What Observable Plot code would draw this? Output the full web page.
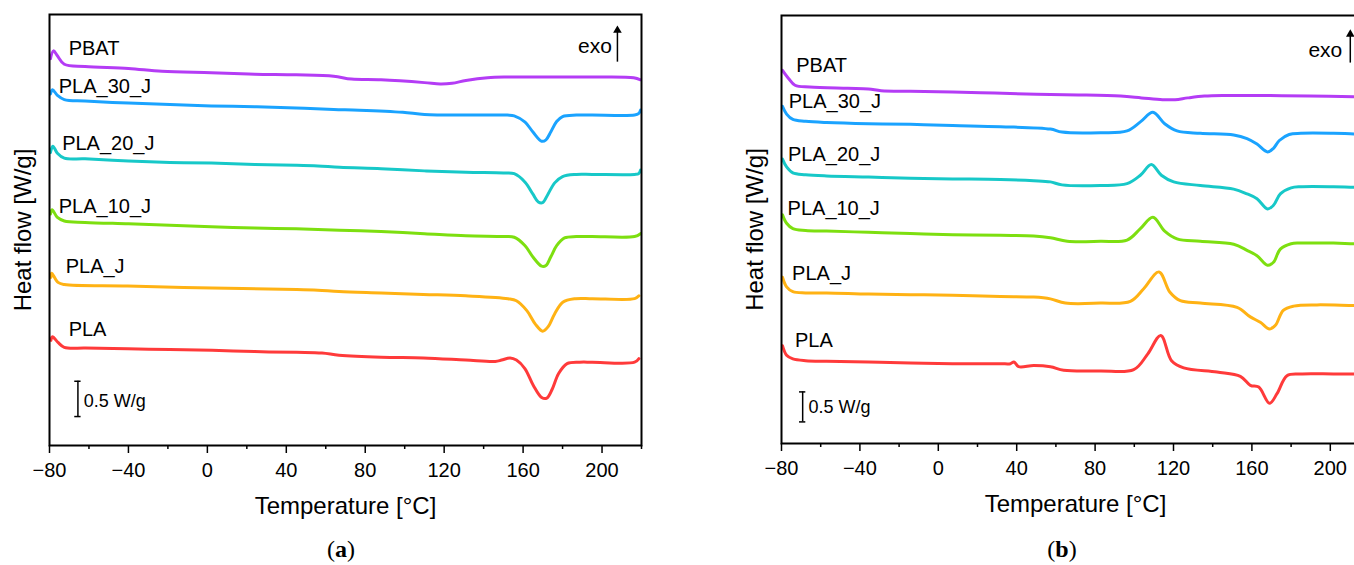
<!DOCTYPE html>
<html><head><meta charset="utf-8">
<script src="https://cdn.jsdelivr.net/npm/d3@7"></script>
<script src="https://cdn.jsdelivr.net/npm/@observablehq/plot@0.6"></script>
<style>
html,body{margin:0;padding:0;background:#fff;width:1354px;height:565px;overflow:hidden;font-family:"Liberation Sans",Arial,sans-serif;position:relative;}
#a,#b{position:absolute;top:0;}
#a{left:0;width:660px}
#b{left:700px;width:700px}
#a svg,#b svg{max-width:none !important;}
.cap{position:absolute;top:536px;font-family:"Liberation Serif","Times New Roman",serif;font-size:24px;transform:translateX(-50%);white-space:nowrap;}
</style></head><body>
<div id="a"></div><div id="b"></div>
<div class="cap" style="left:341px">(<b>a</b>)</div>
<div class="cap" style="left:1062px">(<b>b</b>)</div>
<script>
// ---- series ----
const seriesNames = ["PBAT","PLA_30_J","PLA_20_J","PLA_10_J","PLA_J","PLA"];
const seriesColors = ["#b43cf5","#1aa3ff","#17c8c8","#7ddf10","#ffb214","#ff3a3a"];
const majorTicks = [-80,-40,0,40,80,120,160,200];
const minorTicks = [-60,-20,20,60,100,140,180,220];

// ---- panel (a): temperature [°C] and shifted heat flow [W/g] ----
const tA_PBAT = [-79.5,-78,-76,-72.5,-62,-40,-23,2,24,45,64,73,88,110,118,124,131,142,152,174,195,216,219.5];
const hA_PBAT = [5.48,5.59,5.52,5.40,5.37,5.34,5.30,5.28,5.26,5.25,5.23,5.19,5.18,5.14,5.12,5.13,5.17,5.21,5.22,5.22,5.22,5.21,5.18];
const tA_P30 = [-79.5,-78.5,-76,-72.5,-62,-40,-19,2,24,45,64,77,99,110,131,152,155.5,161,165,169.4,171.6,174,177,180,187,195,216.5,218.5,219.5];
const hA_P30 = [4.98,5.04,4.96,4.90,4.88,4.85,4.83,4.81,4.80,4.78,4.76,4.75,4.72,4.69,4.68,4.68,4.67,4.58,4.44,4.31,4.33,4.44,4.59,4.66,4.68,4.68,4.68,4.70,4.75];
const tA_P20 = [-79.5,-78.3,-76,-72.5,-62,-40,-19,2,24,45,56,67,88,110,131,150,155.5,161,165,167.7,169.9,172.6,176,180,187,195,216.5,218.5,219.5];
const hA_P20 = [4.15,4.24,4.14,4.07,4.06,4.03,4.01,4.00,3.98,3.97,3.96,3.94,3.92,3.89,3.87,3.86,3.85,3.73,3.56,3.45,3.44,3.56,3.72,3.81,3.84,3.84,3.84,3.85,3.90];
const tA_P10 = [-79.5,-78.7,-76,-72.5,-62,-40,-19,2,24,45,67,88,110,131,150,155.5,161,165,169.4,171.6,174,177,181,187,195,216.5,219.5];
const hA_P10 = [3.28,3.34,3.23,3.18,3.16,3.14,3.12,3.10,3.08,3.07,3.05,3.03,3.00,2.97,2.96,2.95,2.83,2.67,2.54,2.55,2.67,2.83,2.94,2.96,2.96,2.96,3.00];
const tA_PJ = [-79.3,-78.9,-75.7,-72.5,-40.4,2.4,45.3,56,66.7,88.1,109.5,130.9,152.3,156.6,161.9,166.2,169.9,172.6,175.9,180.1,186.6,195.1,216.5,218.7];
const hA_PJ = [2.38,2.44,2.31,2.28,2.26,2.23,2.21,2.20,2.18,2.16,2.14,2.12,2.08,2.05,1.91,1.72,1.62,1.68,1.86,2.03,2.08,2.08,2.08,2.12];
const tA_PLA = [-79.3,-78.5,-75.7,-72.5,-61.8,-40.4,-19,2.4,23.9,45.3,58.1,66.7,88.1,109.5,130.9,145.9,149.1,153.4,156.6,160.9,165.2,169.4,172.0,174.8,178.0,182.3,188.7,195.1,216.5,218.7];
const hA_PLA = [1.49,1.54,1.46,1.39,1.38,1.37,1.36,1.35,1.33,1.32,1.31,1.28,1.25,1.24,1.21,1.19,1.21,1.24,1.21,1.09,0.85,0.68,0.67,0.80,1.02,1.16,1.18,1.18,1.18,1.23];
const labelA_t = [-70.3,-75.3,-73.6,-75.3,-71.8,-70.3];
const labelA_h = [5.62,5.08,4.28,3.39,2.54,1.64];

// ---- panel (b) ----
const tB_PBAT = [-79.5,-76.3,-73.1,-65.6,-46.3,-35.6,-29.2,-14.2,7.3,28.7,50.1,71.5,93.0,103.7,114.4,120.8,127.3,135.8,146.5,168.0,189.4,214.7,220];
const hB_PBAT = [6.22,6.08,5.97,5.94,5.92,5.91,5.88,5.87,5.86,5.84,5.82,5.81,5.79,5.76,5.73,5.73,5.76,5.79,5.80,5.80,5.79,5.78,5.78];
const tB_P30 = [-79.5,-77.4,-74.2,-67.7,-57.0,-35.6,-14.2,7.3,31.7,57.2,63.1,82.7,96.3,103.1,109.5,115.5,121.8,133.7,150.7,157.5,162.6,168,171,174,179,185,201.6,212.2,220];
const hB_P30 = [5.62,5.49,5.40,5.37,5.35,5.33,5.32,5.30,5.28,5.24,5.19,5.18,5.21,5.36,5.52,5.33,5.21,5.17,5.14,5.08,4.99,4.86,4.92,5.05,5.15,5.17,5.17,5.16,5.16];
const tB_P20 = [-79.5,-77.4,-74.2,-67.7,-57.0,-35.6,-14.2,7.3,31.7,48.7,57.2,63.1,82.7,96.3,103.1,108.7,113.8,120.1,133.7,150.7,157.5,162.6,168,171,174.5,180,185,201.6,212.2,220];
const hB_P20 = [4.74,4.61,4.51,4.48,4.46,4.44,4.42,4.41,4.40,4.38,4.36,4.31,4.30,4.33,4.47,4.65,4.47,4.36,4.30,4.24,4.16,4.08,3.91,3.97,4.16,4.26,4.28,4.28,4.27,4.27];
const tB_P10 = [-79.5,-77.4,-74.2,-67.7,-57.0,-35.6,-14.2,7.3,31.7,48.7,57.2,65.8,82.7,96.3,103.1,109.5,115.5,121.8,133.7,150.7,157.5,162.6,168,171,174.5,180,185,201.6,212.2,220];
const hB_P10 = [3.81,3.67,3.58,3.55,3.54,3.52,3.50,3.48,3.47,3.46,3.43,3.37,3.37,3.39,3.58,3.77,3.54,3.41,3.37,3.32,3.22,3.13,2.97,3.02,3.24,3.33,3.34,3.34,3.33,3.33];
const tB_PJ = [-79.5,-77.4,-74.2,-67.7,-57.0,-35.6,-14.2,7.3,31.7,48.7,57.2,64.8,82.7,98.0,104.8,112.6,118.2,123.5,133.7,152.4,159.2,164.3,169,172,176,181.3,193.2,212.2,220];
const hB_PJ = [2.77,2.61,2.53,2.51,2.51,2.49,2.48,2.47,2.45,2.44,2.41,2.34,2.34,2.37,2.58,2.86,2.52,2.38,2.34,2.27,2.11,2.02,1.91,1.97,2.22,2.29,2.31,2.30,2.30];
const tB_PLA = [-79.5,-77.4,-74.2,-67.7,-57.0,-35.6,-14.2,7.3,31.7,36.8,38.6,41.0,48.7,57.2,64.0,82.7,99.7,106.8,113.5,119.0,125.2,142.2,154.1,159.2,163.5,169,172.8,177.9,184.7,201.6,212.2,220];
const hB_PLA = [1.63,1.47,1.41,1.38,1.37,1.36,1.34,1.33,1.33,1.33,1.36,1.28,1.30,1.28,1.22,1.21,1.23,1.49,1.80,1.38,1.26,1.19,1.12,0.97,0.94,0.67,0.83,1.13,1.16,1.16,1.16,1.16];
const labelB_t = [-72.5,-76.3,-76.7,-76.9,-74.6,-73.1];
const labelB_h = [6.30,5.69,4.82,3.91,2.83,1.72];

function rows(ts, hs) {
  return ts.flatMap((T, k) => T.map((t, i) => ({series: seriesNames[k], t, h: hs[k][i]})));
}

function panel(cfg) {
  const data = rows(cfg.ts, cfg.hs);
  const labels = seriesNames.map((s, i) => ({s, t: cfg.lt[i], h: cfg.lh[i]}));
  const sb = cfg.scaleBar, ex = cfg.exo;
  return Plot.plot({
    width: cfg.width, height: 525,
    marginLeft: cfg.ml, marginRight: cfg.mr, marginTop: cfg.mt, marginBottom: 525 - cfg.bottom,
    style: {fontFamily: "'Liberation Sans', Arial, sans-serif", fontSize: "20px", color: "black", background: "transparent", overflow: "visible", maxWidth: "none"},
    x: {domain: [-80, 220], axis: null},
    y: {domain: [0, cfg.ymax], axis: null},
    color: {domain: seriesNames, range: seriesColors},
    marks: [
      Plot.line(data, {x: "t", y: "h", z: "series", stroke: "series", strokeWidth: 3, curve: "catmull-rom"}),
      Plot.frame({stroke: "black", strokeWidth: 2}),
      Plot.axisX({ticks: majorTicks, tickSize: 8, tickPadding: 9, label: null, fontSize: 20, stroke: "black", strokeWidth: 1.5}),
      Plot.axisX({ticks: minorTicks, tickSize: 4, tickFormat: () => "", label: null, stroke: "black", strokeWidth: 1.5}),
      Plot.text(["Temperature [°C]"], {frameAnchor: "bottom", dy: 68, fontSize: 24}),
      Plot.text(["Heat flow [W/g]"], {frameAnchor: "left", textAnchor: "middle", rotate: -90, dx: -26, fontSize: 24}),
      Plot.text(labels, {x: "t", y: "h", text: "s", textAnchor: "start", fontSize: 20}),
      // scale bar 0.5 W/g
      Plot.ruleX([sb], {x: "t", y1: "h1", y2: "h2", stroke: "black", strokeWidth: 1.5}),
      Plot.ruleY([sb], {y: "h1", x1: d => d.t - 1.6, x2: d => d.t + 1.6, stroke: "black", strokeWidth: 1.5}),
      Plot.ruleY([sb], {y: "h2", x1: d => d.t - 1.6, x2: d => d.t + 1.6, stroke: "black", strokeWidth: 1.5}),
      Plot.text([sb], {x: "lt", y: "lh", text: () => "0.5 W/g", textAnchor: "start", fontSize: 18}),
      // exo arrow
      Plot.text([ex], {x: "tt", y: "th", text: () => "exo", textAnchor: "end", fontSize: 21}),
      Plot.ruleX([ex], {x: "at", y1: "a1", y2: "a2", stroke: "black", strokeWidth: 1.5}),
      Plot.dot([ex], {x: "at", y: "a2", symbol: "triangle", r: 3.2, fill: "black"})
    ]
  });
}

document.getElementById("a").append(panel({
  width: 660, ml: 49, mr: 19, mt: 14, bottom: 445, ymax: 6.105,
  ts: [tA_PBAT, tA_P30, tA_P20, tA_P10, tA_PJ, tA_PLA],
  hs: [hA_PBAT, hA_P30, hA_P20, hA_P10, hA_PJ, hA_PLA],
  lt: labelA_t, lh: labelA_h,
  scaleBar: {t: -65.6, h1: 0.41, h2: 0.91, lt: -62.6, lh: 0.63},
  exo: {tt: 205, th: 5.65, at: 207.8, a1: 5.43, a2: 5.88}
}));
document.getElementById("b").append(panel({
  width: 700, ml: 81, mr: 31, mt: 15, bottom: 443, ymax: 7.133,
  ts: [tB_PBAT, tB_P30, tB_P20, tB_P10, tB_PJ, tB_PLA],
  hs: [hB_PBAT, hB_P30, hB_P20, hB_P10, hB_PJ, hB_PLA],
  lt: labelB_t, lh: labelB_h,
  scaleBar: {t: -69.2, h1: 0.36, h2: 0.86, lt: -66.2, lh: 0.60},
  exo: {tt: 206.1, th: 6.55, at: 210.2, a1: 6.34, a2: 6.82}
}));
</script>
</body></html>
